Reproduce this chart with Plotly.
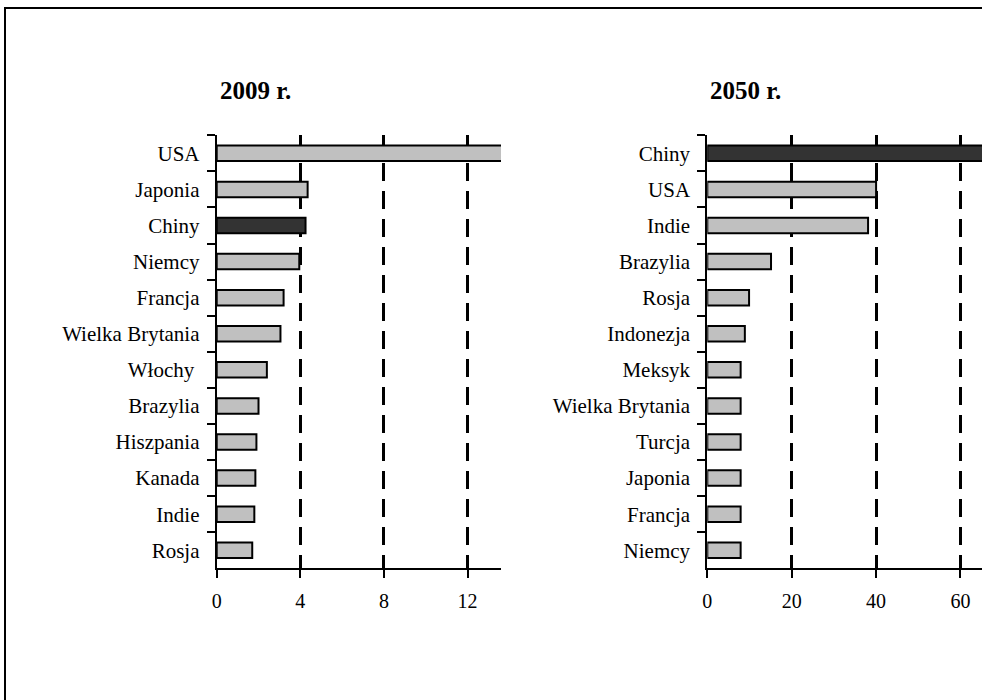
import plotly.graph_objects as go

# ---- data ----
left_title = "2009 r."
left_countries = ["USA", "Japonia", "Chiny", "Niemcy", "Francja", "Wielka Brytania",
                  "Włochy\u00a0", "Brazylia", "Hiszpania", "Kanada", "Indie", "Rosja"]
left_values = [14.3, 4.35, 4.25, 3.95, 3.2, 3.05, 2.4, 2.0, 1.9, 1.85, 1.8, 1.7]
left_ticks = [0, 4, 8, 12]

right_title = "2050 r."
right_countries = ["Chiny", "USA", "Indie", "Brazylia", "Rosja", "Indonezja", "Meksyk",
                   "Wielka Brytania", "Turcja", "Japonia", "Francja", "Niemcy"]
right_values = [70.7, 40.0, 38.1, 15.1, 9.9, 8.9, 7.9, 7.9, 7.9, 7.9, 7.9, 7.9]
right_ticks = [0, 20, 40, 60]

highlight = "Chiny"

W, H = 982, 700
FONT = "Liberation Serif, Times New Roman, serif"
LIGHT = "#C0C0C0"
DARK = "#333333"


def colors(cats):
    return [DARK if c == highlight else LIGHT for c in cats]


fig = go.Figure()
fig.add_trace(go.Bar(
    y=left_countries, x=left_values, orientation="h", xaxis="x", yaxis="y",
    width=0.43, marker=dict(color=colors(left_countries), line=dict(color="black", width=2)),
    showlegend=False, hoverinfo="x+y"))
fig.add_trace(go.Bar(
    y=right_countries, x=right_values, orientation="h", xaxis="x2", yaxis="y2",
    width=0.43, marker=dict(color=colors(right_countries), line=dict(color="black", width=2)),
    showlegend=False, hoverinfo="x+y"))

ydom = [(H - 568.3) / H, (H - 135.3) / H]


def xax(domain, rng, ticks, anchor):
    return dict(domain=domain, range=rng, tickvals=ticks, anchor=anchor,
                showline=True, linecolor="black", linewidth=2,
                ticks="outside", ticklen=8, tickwidth=2, tickcolor="black",
                ticklabelstandoff=6,
                showgrid=True, gridcolor="black", gridwidth=3, griddash="18px,10px",
                zeroline=False, tickfont=dict(size=20, color="black", family=FONT),
                automargin=False, fixedrange=True)


def yax(anchor):
    return dict(domain=ydom, anchor=anchor, autorange="reversed", type="category",
                showline=True, linecolor="black", linewidth=2,
                ticks="outside", tickson="boundaries", ticklen=8, tickwidth=2,
                tickcolor="black", showgrid=False, zeroline=False,
                ticklabelstandoff=11,
                tickfont=dict(size=21, color="black", family=FONT),
                automargin=False, fixedrange=True)


fig.update_layout(
    width=W, height=H,
    margin=dict(l=0, r=0, t=0, b=0),
    paper_bgcolor="white", plot_bgcolor="white",
    font=dict(family=FONT, color="black"),
    xaxis=xax([216.7 / W, 501 / W], [0, 13.6], left_ticks, "y"),
    yaxis=yax("x"),
    xaxis2=xax([707.3 / W, 1.0], [0, 65.1], right_ticks, "y2"),
    yaxis2=yax("x2"),
    annotations=[
        dict(text="<b>" + left_title + "</b>", x=255.5 / W, y=1 - 90.7 / H,
             xref="paper", yref="paper", xanchor="center", yanchor="middle",
             showarrow=False, font=dict(size=25, family=FONT, color="black")),
        dict(text="<b>" + right_title + "</b>", x=745.5 / W, y=1 - 90.7 / H,
             xref="paper", yref="paper", xanchor="center", yanchor="middle",
             showarrow=False, font=dict(size=25, family=FONT, color="black")),
    ],
    shapes=[dict(type="rect", xref="paper", yref="paper",
                 x0=5 / W, y0=1 - 8 / H, x1=1.05, y1=-0.05,
                 line=dict(color="black", width=2), fillcolor="rgba(0,0,0,0)")],
)

fig.write_html("out.html")
